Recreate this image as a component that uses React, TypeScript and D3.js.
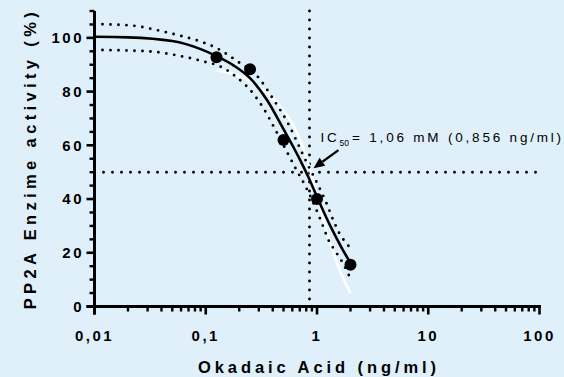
import * as d3 from "d3";

const W = 564;
const H = 377;
const BG = "#dff0fa";
const FONT = "'Liberation Sans', Arial, Helvetica, sans-serif";

// axes
const xTicks = [0.01, 0.1, 1, 10, 100];
const xTickLabels = ["0,01", "0,1", "1", "10", "100"];
const yTicks = [0, 20, 40, 60, 80, 100];
const yTickLabels = ["0", "20", "40", "60", "80", "100"];

// measured activity (%) vs okadaic acid (ng/ml)
const dose = [0.125, 0.25, 0.5, 1, 2];
const activity = [92.8, 88.3, 62, 40, 15.5];

// fitted curve
const fitDose = [0.01, 0.02, 0.05, 0.09, 0.125, 0.18, 0.25, 0.36, 0.5, 0.62, 0.71, 0.84, 1, 1.2, 1.42, 1.71, 2];
const fitActivity = [100.4, 100.2, 98.8, 95.8, 93.2, 89.6, 85, 76.5, 66, 59, 54.3, 48, 40.8, 33.5, 27.3, 21, 16.2];

// 95% band, upper and lower
const upperDose = [0.01, 0.02, 0.042, 0.063, 0.09, 0.125, 0.156, 0.2, 0.28, 0.4, 0.56, 0.71, 0.81, 1, 1.23, 1.42, 1.6, 1.8, 2];
const upperActivity = [105.1, 104.7, 102.3, 100.5, 98.6, 96.2, 93.8, 90.8, 86.5, 77.5, 67.5, 58.5, 53.5, 46, 38, 31.5, 27, 24, 21.7];
const lowerDose = [0.01, 0.03, 0.063, 0.096, 0.136, 0.19, 0.27, 0.33, 0.41, 0.5, 0.66, 0.77, 0.85, 1.05, 1.16, 1.26, 1.45, 1.7, 1.94];
const lowerActivity = [95.5, 95, 93, 91.2, 89.3, 85.3, 79, 73.8, 66.8, 60, 50.5, 45.5, 42, 33.3, 28.8, 25, 20.8, 16.3, 11.5];

// white trace under the fit
const whiteDose = [0.125, 0.18, 0.3, 0.44, 0.62, 0.76, 1, 1.33, 1.6, 2];
const whiteActivity = [88, 86.5, 81.8, 75.6, 67, 58.5, 41.5, 23, 13.5, 5];

const ic50 = 0.856;
const halfLevel = 50;

export default function App() {
  const x = d3.scaleLog().domain([0.01, 100]).range([94.5, 539.5]);
  const y = d3.scaleLinear().domain([0, 110]).range([306.5, 11]);

  const line = d3
    .line<[number, number]>()
    .x((d) => x(d[0]))
    .y((d) => y(d[1]))
    .curve(d3.curveMonotoneX);

  const zip = (a: number[], b: number[]) => a.map((v, i) => [v, b[i]] as [number, number]);

  const xMinor = x.ticks().filter((t) => !xTicks.some((m) => Math.abs(m - t) < 1e-9));
  const yMinor = d3.range(0, 111, 5).filter((v) => v % 20 !== 0);

  const x0 = x.range()[0];
  const y0 = y.range()[0];

  // arrow geometry, relative to the IC50 crossing
  const cx = x(ic50);
  const cy = y(halfLevel);
  const tip = [cx + 4, cy - 4];
  const tail = [cx + 29, cy - 22];
  const ang = Math.atan2(tip[1] - tail[1], tip[0] - tail[0]);
  const headLen = 11;
  const headW = 4.8;
  const base = [tip[0] - headLen * Math.cos(ang), tip[1] - headLen * Math.sin(ang)];
  const head = [
    tip,
    [base[0] + headW * Math.sin(ang), base[1] - headW * Math.cos(ang)],
    [base[0] - headW * Math.sin(ang), base[1] + headW * Math.cos(ang)],
  ];

  const dotted = { stroke: "#000", strokeWidth: 2.9, strokeLinecap: "round" as const, strokeDasharray: "0 9", fill: "none" };

  return (
    <div style={{ position: "absolute", left: 0, top: 0 }}>
      <svg width={W} height={H} style={{ display: "block", fontFamily: FONT }}>
        <rect width={W} height={H} fill={BG} />

        {/* reference lines at IC50 */}
        <line x1={x0 + 9} x2={x.range()[1]} y1={cy} y2={cy} {...dotted} />
        <line x1={cx} x2={cx} y1={y(110)} y2={y0 - 2} {...dotted} />

        {/* white trace */}
        <path d={line(zip(whiteDose, whiteActivity)) || ""} fill="none" stroke="#fff" strokeWidth={2.6} />

        {/* confidence band */}
        <path d={line(zip(upperDose, upperActivity)) || ""} {...dotted} strokeDasharray="0 8" />
        <path d={line(zip(lowerDose, lowerActivity)) || ""} {...dotted} strokeDasharray="0 8" />

        {/* fit */}
        <path d={line(zip(fitDose, fitActivity)) || ""} fill="none" stroke="#000" strokeWidth={2.6} />

        {/* data points */}
        {dose.map((d, i) => (
          <circle key={i} cx={x(d)} cy={y(activity[i])} r={6} fill="#000" />
        ))}

        {/* arrow + label */}
        <line x1={tail[0]} y1={tail[1]} x2={base[0]} y2={base[1]} stroke="#000" strokeWidth={2.2} />
        <polygon points={head.map((p) => p.join(",")).join(" ")} fill="#000" />
        <text x={cx + 11} y={cy - 30.5} fontSize={13.5} letterSpacing={2.8} fill="#000">
          IC
          <tspan fontSize={8.5} dy={4} letterSpacing={0}>50</tspan>
          <tspan dy={-4} dx={3}>= 1,06 mM (0,856 ng/ml)</tspan>
        </text>

        {/* y axis */}
        <line x1={x0} x2={x0} y1={y(110)} y2={y0 + 8} stroke="#000" strokeWidth={3} />
        {yTicks.map((t, i) => (
          <g key={t}>
            <line x1={x0 - 8} x2={x0} y1={y(t)} y2={y(t)} stroke="#000" strokeWidth={2.6} />
            <text x={x0 - 10.5} y={y(t)} dy="0.36em" textAnchor="end" fontSize={15} fontWeight="bold" letterSpacing={2.5}>
              {yTickLabels[i]}
            </text>
          </g>
        ))}
        {yMinor.map((t) => (
          <line key={t} x1={x0 - 5} x2={x0} y1={y(t)} y2={y(t)} stroke="#000" strokeWidth={2.4} />
        ))}

        {/* x axis */}
        <line x1={x0 - 8} x2={x.range()[1] + 1.5} y1={y0} y2={y0} stroke="#000" strokeWidth={3} />
        {xTicks.map((t, i) => (
          <g key={t}>
            <line x1={x(t)} x2={x(t)} y1={y0} y2={y0 + 8} stroke="#000" strokeWidth={2.6} />
            <text x={x(t)} y={340.5} textAnchor="middle" fontSize={15} fontWeight="bold" letterSpacing={2.5}>
              {xTickLabels[i]}
            </text>
          </g>
        ))}
        {xMinor.map((t) => (
          <line key={t} x1={x(t)} x2={x(t)} y1={y0} y2={y0 + 5} stroke="#000" strokeWidth={2.4} />
        ))}

        {/* titles */}
        <text x={317} y={372.5} textAnchor="middle" fontSize={16.5} fontWeight="bold" textLength={238} lengthAdjust="spacing">
          Okadaic Acid (ng/ml)
        </text>
        <text
          transform={`translate(35.5,${(y(0) + y(110)) / 2 + 2}) rotate(-90)`}
          textAnchor="middle"
          fontSize={16.5}
          fontWeight="bold"
          textLength={297}
          lengthAdjust="spacing"
        >
          PP2A Enzime activity (%)
        </text>
      </svg>
    </div>
  );
}
